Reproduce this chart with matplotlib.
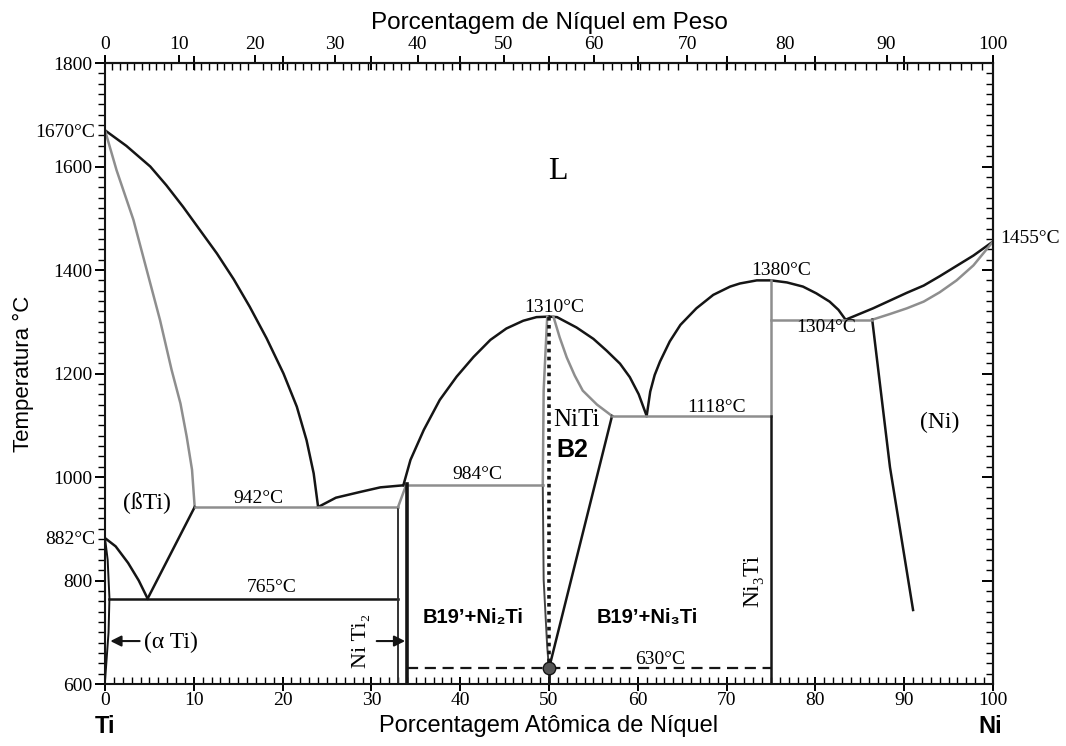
import numpy as np
import matplotlib
matplotlib.use("Agg")
import matplotlib.pyplot as plt
from matplotlib.ticker import MultipleLocator, FixedLocator

plt.rcParams['font.family'] = ['Liberation Serif', 'DejaVu Serif']

# phase boundaries (at.% Ni, deg C)
ti_liq_x = [0, 2.4, 5.1, 6.9, 8.8, 10.7, 12.6, 14.5, 16.3, 18.2, 20.1, 21.6,
            22.7, 23.5, 24.0]
ti_liq_t = [1670, 1640, 1600, 1564, 1522, 1477, 1432, 1382, 1329, 1268, 1200,
            1136, 1071, 1007, 942]
ti_sol_x = [0, 1.3, 3.2, 4.7, 6.2, 7.5, 8.5, 9.2, 9.8, 10.1]
ti_sol_t = [1670, 1593, 1497, 1400, 1303, 1207, 1142, 1078, 1014, 942]

beta_tr_x = [0, 1.2, 2.6, 3.8, 4.8]
beta_tr_t = [882, 866, 834, 800, 765]
beta_sv_x = [4.8, 10.1]
beta_sv_t = [765, 942]
alpha_x = [0, 0.3, 0.5, 0.4, 0]
alpha_t = [882, 840, 766, 700, 605]

eut1_liq_x = [24.0, 26.0, 28.7, 31.0, 33.6]
eut1_liq_t = [942, 960, 971, 980, 984]
dome1_left_x = [33.6, 34.4, 35.9, 37.7, 39.6, 41.5, 43.4, 45.2, 47.1, 48.6,
                50.0]
dome1_left_t = [984, 1033, 1091, 1149, 1194, 1232, 1265, 1287, 1302, 1309,
                1310]
dome1_right_x = [50.0, 50.9, 53.1, 55.0, 56.5, 58.0, 59.1, 60.1, 61.0]
dome1_right_t = [1310, 1309, 1289, 1267, 1244, 1219, 1193, 1160, 1118]
b2_left_x = [49.8, 49.4, 49.3]
b2_left_t = [1310, 1168, 984]
b2_left_low_x = [49.3, 49.4, 49.8, 50.0]
b2_left_low_t = [984, 801, 672, 630]
b2_right_x = [50.5, 51.2, 52.0, 52.9, 53.8, 55.4, 57.1]
b2_right_t = [1310, 1270, 1231, 1196, 1167, 1140, 1118]
b2_right_low_x = [57.1, 50.0]
b2_right_low_t = [1118, 630]

dome2_x = [61.0, 61.4, 61.9, 62.5, 63.6, 64.8, 66.6, 68.5, 70.4, 71.5, 73.4,
           75.0, 76.8, 78.6, 80.1, 81.6, 82.6, 83.4]
dome2_t = [1118, 1165, 1197, 1223, 1262, 1294, 1326, 1352, 1368, 1374, 1380,
           1380, 1376, 1368, 1355, 1339, 1323, 1304]
ni_liq_x = [83.4, 86.5, 88.4, 90.3, 92.2, 94.0, 95.9, 97.8, 100]
ni_liq_t = [1304, 1326, 1341, 1356, 1370, 1388, 1408, 1428, 1455]
ni_sol_x = [86.4, 88.4, 90.3, 92.2, 94.0, 95.9, 97.8, 100]
ni_sol_t = [1304, 1315, 1326, 1339, 1357, 1380, 1409, 1455]
ni_solvus_x = [86.4, 88.4, 91.0]
ni_solvus_t = [1304, 1019, 743]

# invariant lines (x from, x to, T)
iso_942 = (10.1, 33.0, 942)
iso_765 = (0.5, 33.0, 765)
iso_984 = (34.0, 49.3, 984)
iso_1118 = (57.1, 75.0, 1118)
iso_1304 = (75.0, 86.4, 1304)
iso_630 = (34.0, 75.0, 630)

wt_ticks = [0, 10, 20, 30, 40, 50, 60, 70, 80, 90, 100]

BLACK = '#151515'
GRAY = '#8e8e8e'


def at_to_wt(a):
    a = np.asarray(a, dtype=float)
    with np.errstate(divide='ignore', invalid='ignore'):
        m = a * 58.69 + (100 - a) * 47.87
        return np.where(m != 0, 100 * a * 58.69 / m, 0.0)


def wt_to_at(w):
    w = np.asarray(w, dtype=float)
    with np.errstate(divide='ignore', invalid='ignore'):
        n = w / 58.69 + (100 - w) / 47.87
        return np.where(n != 0, 100 * (w / 58.69) / n, 0.0)


fig = plt.figure(figsize=(10.66, 7.46), dpi=100)
ax = fig.add_axes([0.0985, 0.0831, 0.833, 0.8324])
ax.set_xlim(0, 100)
ax.set_ylim(600, 1800)

lw = 1.8
ax.plot(ti_liq_x, ti_liq_t, color=BLACK, lw=lw)
ax.plot(ti_sol_x, ti_sol_t, color=GRAY, lw=lw)
ax.plot(beta_tr_x, beta_tr_t, color=BLACK, lw=lw)
ax.plot(beta_sv_x, beta_sv_t, color=BLACK, lw=lw)
ax.plot(alpha_x, alpha_t, color=BLACK, lw=1.4)
ax.plot(eut1_liq_x, eut1_liq_t, color=BLACK, lw=lw)
ax.plot(dome1_left_x, dome1_left_t, color=BLACK, lw=lw)
ax.plot(dome1_right_x, dome1_right_t, color=BLACK, lw=lw)
ax.plot(b2_left_x, b2_left_t, color=GRAY, lw=lw)
ax.plot(b2_left_low_x, b2_left_low_t, color='#444444', lw=1.4)
ax.plot(b2_right_x, b2_right_t, color=GRAY, lw=lw)
ax.plot(b2_right_low_x, b2_right_low_t, color=BLACK, lw=lw)
ax.plot(dome2_x, dome2_t, color=BLACK, lw=lw)
ax.plot(ni_liq_x, ni_liq_t, color=BLACK, lw=lw)
ax.plot(ni_sol_x, ni_sol_t, color=GRAY, lw=lw)
ax.plot(ni_solvus_x, ni_solvus_t, color=BLACK, lw=lw)

for x0, x1, t in (iso_942, iso_984, iso_1118, iso_1304):
    ax.plot([x0, x1], [t, t], color=GRAY, lw=lw)
ax.plot([iso_765[0], iso_765[1]], [iso_765[2]] * 2, color=BLACK, lw=lw)
ax.plot([iso_630[0], iso_630[1]], [iso_630[2]] * 2, color=BLACK, lw=1.6,
        ls=(0, (5, 3)))

# NiTi2 line compound
ax.plot([33.0, 33.0], [942, 600], color='#333333', lw=1.4)
ax.plot([33.0, 33.9], [942, 984], color=GRAY, lw=lw)
ax.plot([34.0, 34.0], [986, 600], color=BLACK, lw=2.6)
# NiTi equiatomic line and Ni3Ti
ax.plot([50, 50], [1310, 630], color=BLACK, lw=2.6, ls=(0, (1, 1.2)))
ax.plot([50, 50], [630, 600], color=BLACK, lw=2.0)
ax.plot([50], [630], 'o', ms=9, mfc='#555555', mec=BLACK, mew=1)
ax.plot([75, 75], [1380, 1118], color=GRAY, lw=lw)
ax.plot([75, 75], [1118, 600], color=BLACK, lw=lw)

# arrows
arr = dict(arrowstyle='-|>', color=BLACK, lw=1.5, mutation_scale=16,
           shrinkA=0, shrinkB=0)
ax.annotate('', xy=(0.6, 683), xytext=(3.9, 683), arrowprops=arr)
ax.annotate('', xy=(33.8, 683), xytext=(30.6, 683), arrowprops=arr)

# labels inside the diagram
fs = 14
sans = ['Liberation Sans', 'DejaVu Sans']
ax.text(51.0, 1590, 'L', fontsize=23, ha='center', va='center')
ax.text(50.6, 1328, '1310°C', fontsize=fs, ha='center', va='center')
ax.text(76.1, 1400, '1380°C', fontsize=fs, ha='center', va='center')
ax.text(81.2, 1288, '1304°C', fontsize=fs, ha='center', va='center')
ax.text(68.9, 1135, '1118°C', fontsize=fs, ha='center', va='center')
ax.text(53.1, 1110, 'NiTi', fontsize=18, ha='center', va='center')
ax.text(52.6, 1052, 'B2', fontsize=18, ha='center', va='center',
        family=sans, weight='bold')
ax.text(94.0, 1106, '(Ni)', fontsize=17, ha='center', va='center')
ax.text(41.9, 1004, '984°C', fontsize=fs, ha='center', va='center')
ax.text(17.3, 958, '942°C', fontsize=fs, ha='center', va='center')
ax.text(4.7, 950, '(ßTi)', fontsize=17, ha='center', va='center')
ax.text(18.8, 786, '765°C', fontsize=fs, ha='center', va='center')
ax.text(7.4, 680, '(α Ti)', fontsize=17, ha='center', va='center')
ax.text(41.4, 728, 'B19’+Ni₂Ti', fontsize=14.5, ha='center', va='center',
        family=sans, weight='bold')
ax.text(61.1, 728, 'B19’+Ni₃Ti', fontsize=14.5, ha='center', va='center',
        family=sans, weight='bold')
ax.text(62.5, 647, '630°C', fontsize=fs, ha='center', va='center')
ax.text(28.9, 683, 'Ni Ti₂', fontsize=16, ha='center', va='center',
        rotation=90)
ax.text(73.0, 800, 'Ni₃Ti', fontsize=17, ha='center', va='center',
        rotation=90)

# labels outside the frame
ax.text(-1.1, 1666, '1670°C', fontsize=fs, ha='right', va='center', clip_on=False)
ax.text(-1.1, 879, '882°C', fontsize=fs, ha='right', va='center', clip_on=False)
ax.text(100.8, 1460, '1455°C', fontsize=fs, ha='left', va='center', clip_on=False)
ax.text(0, 518, 'Ti', fontsize=17, ha='center', va='center', clip_on=False,
        family=sans, weight='bold')
ax.text(99.7, 518, 'Ni', fontsize=17, ha='center', va='center', clip_on=False,
        family=sans, weight='bold')

# axes, ticks
for s in ax.spines.values():
    s.set_linewidth(1.5)
    s.set_color(BLACK)

ax.xaxis.set_major_locator(MultipleLocator(10))
ax.xaxis.set_minor_locator(MultipleLocator(1))
ax.yaxis.set_major_locator(MultipleLocator(200))
ax.yaxis.set_minor_locator(MultipleLocator(20))
ax.tick_params(axis='x', which='major', direction='inout', length=10, width=1.4,
               labelsize=fs, pad=1, top=True, labeltop=False)
ax.tick_params(axis='x', which='minor', direction='in', length=5, width=1.0,
               top=False)
ax.tick_params(axis='y', which='major', direction='out', length=7, width=1.4,
               labelsize=fs, pad=2)
ax.tick_params(axis='y', which='minor', direction='out', length=5, width=1.0)

# right spine ticks pointing inwards
rax = ax.secondary_yaxis('right')
rax.yaxis.set_major_locator(MultipleLocator(200))
rax.yaxis.set_minor_locator(MultipleLocator(20))
rax.tick_params(which='major', direction='in', length=8, width=1.4, labelright=False)
rax.tick_params(which='minor', direction='in', length=5, width=1.0)
rax.spines['right'].set_linewidth(1.5)

# weight percent along the top
tax = ax.secondary_xaxis('top', functions=(at_to_wt, wt_to_at))
tax.xaxis.set_major_locator(FixedLocator(wt_ticks))
tax.xaxis.set_minor_locator(FixedLocator(list(range(0, 101))))
tax.tick_params(which='major', direction='out', length=6, width=1.4,
                labelsize=fs, pad=1)
tax.tick_params(which='minor', direction='in', length=5, width=1.0)
tax.spines['top'].set_linewidth(1.5)
tax.set_xlabel('Porcentagem de Níquel em Peso', fontsize=17.5,
               family=sans, labelpad=5)

ax.set_xlabel('Porcentagem Atômica de Níquel', fontsize=17,
              family=sans, labelpad=4)
ax.set_ylabel('Temperatura °C', fontsize=16, family=sans, labelpad=14)

fig.savefig('out.png', dpi=100)
